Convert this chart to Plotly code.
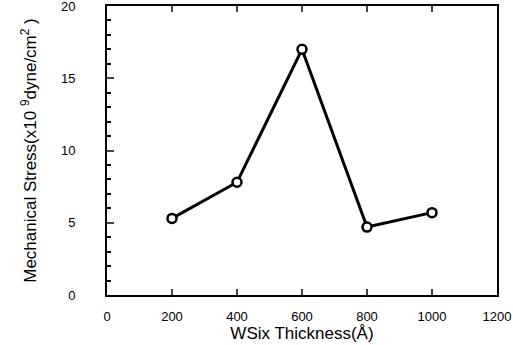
import plotly.graph_objects as go

thickness = [200, 400, 600, 800, 1000]
stress = [5.3, 7.8, 17.0, 4.7, 5.7]
x_ticks = [0, 200, 400, 600, 800, 1000, 1200]
y_ticks = [0, 5, 10, 15, 20]

fig = go.Figure()
fig.add_trace(go.Scatter(
    x=thickness, y=stress, mode="lines+markers",
    line=dict(color="black", width=3),
    marker=dict(symbol="circle", size=9, color="white",
                line=dict(color="black", width=2.5)),
    showlegend=False,
))

font = dict(family="Liberation Sans, Arial, sans-serif", color="black")
fig.update_layout(
    width=513, height=345,
    margin=dict(l=107, r=16, t=6, b=50),
    paper_bgcolor="white", plot_bgcolor="white",
    font=dict(size=13, **font),
    xaxis=dict(
        range=[0, 1200], tickvals=x_ticks, ticks="inside", ticklen=6, tickwidth=2,
        showline=True, linecolor="black", linewidth=2, mirror="ticks",
        showgrid=False, zeroline=False, automargin=False, ticklabelstandoff=8,
        ticklabeloverflow="allow",
        title=dict(text="WSix Thickness(Å)", font=dict(size=17, **font), standoff=4),
    ),
    yaxis=dict(
        range=[0, 20], tickvals=y_ticks, ticks="inside", ticklen=7, tickwidth=2,
        minor=dict(dtick=1, ticks="inside", ticklen=4, tickwidth=1.5, tickcolor="black"),
        showline=True, linecolor="black", linewidth=2, mirror=True,
        showgrid=False, zeroline=False, automargin=False,
        ticklabelstandoff=27,
        ticklabeloverflow="allow",
        title=dict(text="Mechanical Stress(x10 <sup>9</sup>dyne/cm<sup>2</sup> )",
                   font=dict(size=17, **font), standoff=20),
    ),
)
fig.write_html("out.html", config={"displayModeBar": False},
               post_script="document.body.style.margin='0';")
